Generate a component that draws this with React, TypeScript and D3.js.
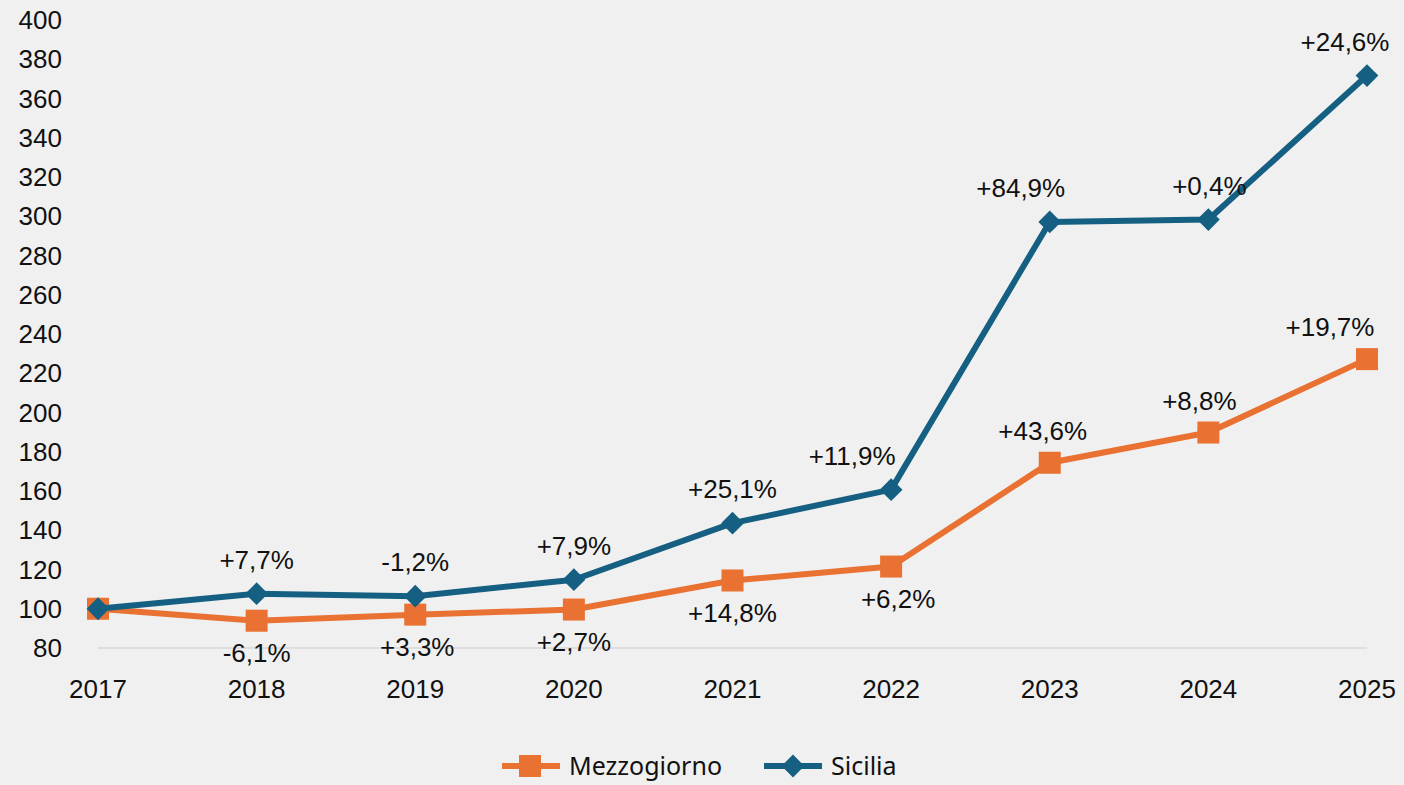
//@ts-nocheck
import React, { useEffect, useRef } from "react";
import * as d3 from "d3";

const years = ["2017", "2018", "2019", "2020", "2021", "2022", "2023", "2024", "2025"];
const mezzogiorno = [100, 93.9, 97.0, 99.6, 114.4, 121.5, 174.4, 189.8, 227.2];
const sicilia = [100, 107.7, 106.4, 114.8, 143.6, 160.7, 297.1, 298.3, 371.7];
const mezzoLabels = ["", "-6,1%", "+3,3%", "+2,7%", "+14,8%", "+6,2%", "+43,6%", "+8,8%", "+19,7%"];
const siciliaLabels = ["", "+7,7%", "-1,2%", "+7,9%", "+25,1%", "+11,9%", "+84,9%", "+0,4%", "+24,6%"];
const yTicks = [80, 100, 120, 140, 160, 180, 200, 220, 240, 260, 280, 300, 320, 340, 360, 380, 400];

// label placement: 1 = above the point, -1 = below
const mezzoSide = [0, -1, -1, -1, -1, -1, 1, 1, 1];
const mezzoDx = [0, 0, 2, 0, 0, 7, -7, -9, -37];
const siciliaDx = [0, 0, 0, 0, 0, -39, -29, 1, -22];

const W = 1404;
const H = 785;
const ORANGE = "#E97132";
const BLUE = "#156082";
const FONT = "'Liberation Sans', Arial, sans-serif";
const FS = 26;

export default function App() {
  const ref = useRef<SVGSVGElement>(null);

  useEffect(() => {
    document.body.style.margin = "0";
    document.body.style.background = "#f0f0f0";
    const svg = d3.select(ref.current);
    svg.selectAll("*").remove();

    const x = d3.scalePoint().domain(years).range([98, 1367]);
    const y = d3.scaleLinear().domain([80, 400]).range([648, 20]);

    svg.append("rect").attr("width", W).attr("height", H).attr("fill", "#f0f0f0");

    // baseline
    svg
      .append("line")
      .attr("x1", 98)
      .attr("x2", 1367)
      .attr("y1", y(80))
      .attr("y2", y(80))
      .attr("stroke", "#d9d9d9")
      .attr("stroke-width", 1.5);

    // y tick labels
    svg
      .append("g")
      .selectAll("text")
      .data(yTicks)
      .join("text")
      .attr("x", 62)
      .attr("y", (d) => y(d))
      .attr("dy", "0.35em")
      .attr("text-anchor", "end")
      .attr("font-family", FONT)
      .attr("font-size", FS)
      .attr("fill", "#111")
      .text((d) => d);

    // x labels
    svg
      .append("g")
      .selectAll("text")
      .data(years)
      .join("text")
      .attr("x", (d) => x(d))
      .attr("y", 689)
      .attr("dy", "0.35em")
      .attr("text-anchor", "middle")
      .attr("font-family", FONT)
      .attr("font-size", FS)
      .attr("fill", "#111")
      .text((d) => d);

    const line = d3
      .line<number>()
      .x((d, i) => x(years[i]))
      .y((d) => y(d));

    // Mezzogiorno
    svg
      .append("path")
      .datum(mezzogiorno)
      .attr("fill", "none")
      .attr("stroke", ORANGE)
      .attr("stroke-width", 6)
      .attr("stroke-linejoin", "round")
      .attr("d", line);
    svg
      .append("g")
      .selectAll("rect")
      .data(mezzogiorno)
      .join("rect")
      .attr("x", (d, i) => x(years[i]) - 11)
      .attr("y", (d) => y(d) - 11)
      .attr("width", 22)
      .attr("height", 22)
      .attr("fill", ORANGE);

    // Sicilia
    svg
      .append("path")
      .datum(sicilia)
      .attr("fill", "none")
      .attr("stroke", BLUE)
      .attr("stroke-width", 6)
      .attr("stroke-linejoin", "round")
      .attr("d", line);
    const diamond = d3.symbol().type(d3.symbolDiamond2).size(330);
    svg
      .append("g")
      .selectAll("path")
      .data(sicilia)
      .join("path")
      .attr("transform", (d, i) => `translate(${x(years[i])},${y(d)})`)
      .attr("d", diamond)
      .attr("fill", BLUE);

    // data labels
    svg
      .append("g")
      .selectAll("text")
      .data(mezzogiorno)
      .join("text")
      .attr("x", (d, i) => x(years[i]) + mezzoDx[i])
      .attr("y", (d, i) => y(d) - mezzoSide[i] * 32)
      .attr("dy", "0.35em")
      .attr("text-anchor", "middle")
      .attr("font-family", FONT)
      .attr("font-size", FS)
      .attr("fill", "#111")
      .text((d, i) => mezzoLabels[i]);

    svg
      .append("g")
      .selectAll("text")
      .data(sicilia)
      .join("text")
      .attr("x", (d, i) => x(years[i]) + siciliaDx[i])
      .attr("y", (d, i) => y(d) - 34)
      .attr("dy", "0.35em")
      .attr("text-anchor", "middle")
      .attr("font-family", FONT)
      .attr("font-size", FS)
      .attr("fill", "#111")
      .text((d, i) => siciliaLabels[i]);

    // legend
    const legend = svg.append("g").attr("transform", "translate(0,766)");
    legend.append("line").attr("x1", 502).attr("x2", 560).attr("stroke", ORANGE).attr("stroke-width", 6);
    legend.append("rect").attr("x", 519).attr("y", -11).attr("width", 22).attr("height", 22).attr("fill", ORANGE);
    legend
      .append("text")
      .attr("x", 569)
      .attr("dy", "0.35em")
      .attr("font-family", "'Noto Sans', sans-serif")
      .attr("font-size", 25)
      .attr("fill", "#111")
      .text("Mezzogiorno");
    legend.append("line").attr("x1", 764).attr("x2", 822).attr("stroke", BLUE).attr("stroke-width", 6);
    legend
      .append("path")
      .attr("transform", "translate(793,0)")
      .attr("d", diamond)
      .attr("fill", BLUE);
    legend
      .append("text")
      .attr("x", 831)
      .attr("dy", "0.35em")
      .attr("font-family", "'Noto Sans', sans-serif")
      .attr("font-size", 25)
      .attr("fill", "#111")
      .text("Sicilia");
  }, []);

  return (
    <svg
      ref={ref}
      width={W}
      height={H}
      style={{ display: "block", position: "absolute", top: 0, left: 0 }}
    ></svg>
  );
}
